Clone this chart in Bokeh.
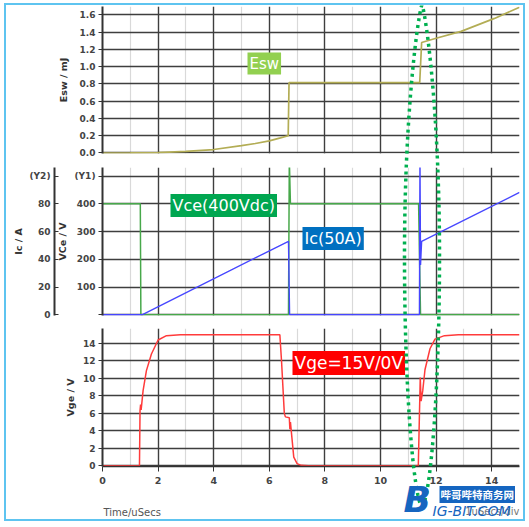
import numpy as np
from bokeh.plotting import figure
from bokeh.layouts import column
from bokeh.models import (Range1d, LinearAxis, FixedTicker, Grid, Label,
                          PrintfTickFormatter)
from bokeh.embed import file_html
from bokeh.resources import INLINE

# ---------------- data ----------------
time_ticks = [0, 2, 4, 6, 8, 10, 12, 14]
time_minor = [1, 3, 5, 7, 9, 11, 13, 15]

esw_ticks = [0.0, 0.2, 0.4, 0.6, 0.8, 1.0, 1.2, 1.4, 1.6]
esw_t = [0, 1, 2, 3, 4, 5, 5.5, 6, 6.4, 6.68, 6.71, 11.41, 11.48, 12.0, 12.9, 14.1, 15.0]
esw_mj = [0, 0.001, 0.005, 0.018, 0.04, 0.085, 0.11, 0.14, 0.175, 0.2, 0.815, 0.815,
          1.28, 1.33, 1.41, 1.56, 1.69]

vce_ticks = [0, 100, 200, 300, 400, 500]
vce_tick_labels = {0: "", 100: "100", 200: "200", 300: "300", 400: "400", 500: "(Y1)"}
vce_t = [0, 1.36, 1.38, 6.69, 6.72, 6.76, 11.37, 11.44, 15]
vce_v = [400, 400, 0, 0, 560, 400, 400, 0, 0]

ic_ticks = [0, 20, 40, 60, 80, 100]
ic_tick_labels = {0: "0", 20: "20", 40: "40", 60: "60", 80: "80", 100: "(Y2)"}
ic_t = [0, 1.42, 6.69, 6.73, 11.40, 11.42, 11.44, 11.48, 15]
ic_a = [0, 0, 53, 0, 0, 112, 36, 53, 88.2]

vge_ticks = [0, 2, 4, 6, 8, 10, 12, 14]
vge_t = [0, 1.33, 1.35, 1.37, 1.39, 1.46, 1.58, 1.76, 2.0, 2.3, 2.8, 6.38, 6.44, 6.54,
         6.58, 6.72, 6.74, 6.76, 6.88, 7.0, 7.15, 7.4, 11.36, 11.43, 11.46, 11.52, 11.6,
         11.78, 11.96, 12.3, 12.8, 15]
vge_v = [0, 0, 6.3, 7.0, 6.4, 8.6, 10.9, 12.8, 14.4, 14.9, 15.0, 15.0, 12.0, 6.0,
         5.6, 5.5, 4.2, 5.0, 1.0, 0.25, 0.05, 0, 0, 10.1, 7.4, 8.6, 11.0,
         13.4, 14.5, 14.9, 15.0, 15.0]

# ---------------- layout geometry (absolute page pixels) ----------------
CONTENT_LEFT, CONTENT_TOP = 6, 5
CONTENT_W, CONTENT_H = 517, 514
FRAME_LEFT, FRAME_RIGHT = 102, 519
X_START, X_END = 0, 15

DARK = "#3e3e3e"
LIGHT = "#d9d9d9"
TXT = "#444444"
FONT = "DejaVu Sans"


def to_x(sx):
    return X_START + (sx - FRAME_LEFT) / (FRAME_RIGHT - FRAME_LEFT) * (X_END - X_START)


def make_panel(c_top, c_bot, f_top, f_bot, y0, y1, ticks):
    p = figure(width=CONTENT_W, height=c_bot - c_top,
               x_range=Range1d(X_START, X_END), y_range=Range1d(y0, y1),
               x_axis_location=None, y_axis_location=None,
               min_border_left=FRAME_LEFT - CONTENT_LEFT,
               min_border_right=CONTENT_LEFT + CONTENT_W - FRAME_RIGHT,
               min_border_top=f_top - c_top, min_border_bottom=c_bot - f_bot,
               toolbar_location=None, output_backend="svg", title=None)
    p.outline_line_color = None
    p.add_layout(Grid(dimension=0, ticker=FixedTicker(ticks=time_ticks, minor_ticks=time_minor),
                      grid_line_color=DARK, grid_line_width=1.4,
                      minor_grid_line_color=LIGHT, minor_grid_line_width=1.2))
    p.add_layout(Grid(dimension=1, ticker=FixedTicker(ticks=ticks),
                      grid_line_color=DARK, grid_line_width=1.4))

    def to_y(sy):
        return y0 + (f_bot - sy) / (f_bot - f_top) * (y1 - y0)
    return p, to_y


def style_axis(ax, label, label_standoff, tick_out=4, tick_in=0, standoff=3):
    ax.axis_label = label
    ax.axis_label_text_font = FONT
    ax.axis_label_text_font_style = "bold"
    ax.axis_label_text_font_size = "9.5px"
    ax.axis_label_text_color = "#333333"
    ax.axis_label_standoff = label_standoff
    ax.major_label_text_font = FONT
    ax.major_label_text_font_style = "bold"
    ax.major_label_text_font_size = "9px"
    ax.major_label_text_color = TXT
    ax.major_label_standoff = standoff
    ax.axis_line_color = "#333333"
    ax.axis_line_width = 2
    ax.major_tick_line_color = "#333333"
    ax.major_tick_out = tick_out
    ax.major_tick_in = tick_in
    ax.minor_tick_line_color = None


def pad_axis(p, width):
    # empty spacer axis: keeps the left side snug so axis titles sit where the reference has them
    p.add_layout(LinearAxis(ticker=FixedTicker(ticks=[]), axis_line_color=None,
                            major_tick_line_color=None, minor_tick_line_color=None,
                            major_tick_out=width, major_tick_in=0,
                            major_label_text_font_size="0px"), "left")


def tag(p, x, y, text, color, size="15px"):
    p.add_layout(Label(x=x, y=y, text=text, text_color="white", text_font=FONT,
                       text_font_size=size, text_baseline="middle", text_align="left",
                       background_fill_color=color, padding=2))


# ---------------- top panel: Esw ----------------
p1, ty1 = make_panel(5, 160, 6, 153, -0.006, 1.698, esw_ticks)
ax = LinearAxis(ticker=FixedTicker(ticks=esw_ticks), formatter=PrintfTickFormatter(format="%.1f"))
style_axis(ax, "Esw / mJ", 8)
p1.add_layout(ax, "left")
pad_axis(p1, 49)
p1.line(esw_t, esw_mj, line_color="#b3ad55", line_width=1.7)
tag(p1, to_x(247), ty1(63), "Esw", "#92d050")

# ---------------- middle panel: Vce / Ic ----------------
p2, ty2 = make_panel(160, 321, 167, 315, -2.5, 530.8, vce_ticks)
p2.extra_y_ranges = {"ic": Range1d(-2.5 / 5, 530.8 / 5)}
ax1 = LinearAxis(ticker=FixedTicker(ticks=vce_ticks), major_label_overrides=vce_tick_labels)
style_axis(ax1, "VCe / V", 3)
p2.add_layout(ax1, "left")
pad_axis(p2, 9)
ax2 = LinearAxis(y_range_name="ic", ticker=FixedTicker(ticks=ic_ticks),
                 major_label_overrides=ic_tick_labels)
style_axis(ax2, "Ic / A", 2, tick_out=0, tick_in=4, standoff=4)
p2.add_layout(ax2, "left")
p2.line(vce_t, vce_v, line_color="#47a84a", line_width=1.5)
p2.line(ic_t, ic_a, y_range_name="ic", line_color="#4646ff", line_width=1.4)
tag(p2, to_x(170), ty2(205), "Vce(400Vdc)", "#00a650", size="16px")
tag(p2, to_x(302), ty2(238), "Ic(50A)", "#0070c0", size="16px")

# ---------------- bottom panel: Vge ----------------
p3, ty3 = make_panel(321, 519, 328, 466, -0.08, 15.72, vge_ticks)
ay = LinearAxis(ticker=FixedTicker(ticks=vge_ticks))
style_axis(ay, "Vge / V", 4)
p3.add_layout(ay, "left")
pad_axis(p3, 55)
axx = LinearAxis(ticker=FixedTicker(ticks=time_ticks))
style_axis(axx, "", 0, tick_out=5, standoff=5)
axx.major_label_text_font_size = "9.5px"
axx.axis_line_width = 1.5
p3.add_layout(axx, "below")
p3.line(vge_t, vge_v, line_color="#ff3b3b", line_width=1.5)
tag(p3, to_x(292), ty3(362.5), "Vge=15V/0V", "#ff0000", size="17px")

# ---------------- transparent overlay (x, y in page pixels) ----------------
ov = figure(width=CONTENT_W, height=CONTENT_H,
            x_range=Range1d(FRAME_LEFT, FRAME_RIGHT),
            y_range=Range1d(CONTENT_TOP + CONTENT_H, CONTENT_TOP),
            x_axis_location=None, y_axis_location=None,
            min_border_left=FRAME_LEFT - CONTENT_LEFT,
            min_border_right=CONTENT_LEFT + CONTENT_W - FRAME_RIGHT,
            min_border_top=0, min_border_bottom=0,
            toolbar_location=None, output_backend="svg", title=None,
            styles={"position": "absolute", "left": "0px", "top": "0px"})
ov.outline_line_color = None
ov.background_fill_alpha = 0
ov.border_fill_alpha = 0
ov.grid.visible = False

# dotted ellipse around the turn-on event (egg shape: narrower at the top)
ell_cx, ell_cy, ell_a, ell_b = 421.5, 255.0, 17.5, 251.0
yy = np.linspace(ell_cy - ell_b, ell_cy + ell_b, 300)
rel = np.clip(1 - ((yy - ell_cy) / ell_b) ** 2, 0, 1)
expo = np.where(yy < ell_cy, 0.8, 0.6)
half = ell_a * rel ** expo
ex = np.concatenate([ell_cx - half, (ell_cx + half)[::-1], [ell_cx - half[0]]])
ey = np.concatenate([yy, yy[::-1], [yy[0]]])
ov.line(ex, ey, line_color="#00b050", line_width=3.5, line_dash="3 4")

ov.add_layout(Label(x=103, y=512, text="Time/uSecs", text_font=FONT,
                    text_font_size="10px", text_color="#555555", text_baseline="middle"))
ov.add_layout(Label(x=519, y=511, text="1uSecs/div", text_font=FONT,
                    text_font_size="10px", text_color="#777777", text_baseline="middle",
                    text_align="right"))
ov.add_layout(Label(x=403, y=499, text="B", text_font=FONT,
                    text_font_style="bold italic", text_font_size="36px", text_color="#1565c0",
                    text_baseline="middle"))
ov.add_layout(Label(x=439, y=494, text="哔哥哔特商务网",
                    text_font="Noto Sans CJK SC", text_font_style="bold", text_font_size="10.5px",
                    text_color="white", background_fill_color="#1565c0", padding=1,
                    text_baseline="middle"))
ov.add_layout(Label(x=432, y=510, text="IG-BIT.COM", text_font=FONT,
                    text_font_style="italic", text_font_size="14px", text_color="#1565c0",
                    text_baseline="middle"))

layout = column(p1, p2, p3, ov, spacing=0,
                styles={"position": "relative", "margin-left": f"{CONTENT_LEFT}px",
                        "margin-top": f"{CONTENT_TOP}px",
                        "outline": "2px solid #5ec4f0", "outline-offset": "0px"})

open("out.html", "w").write(file_html(layout, INLINE))
